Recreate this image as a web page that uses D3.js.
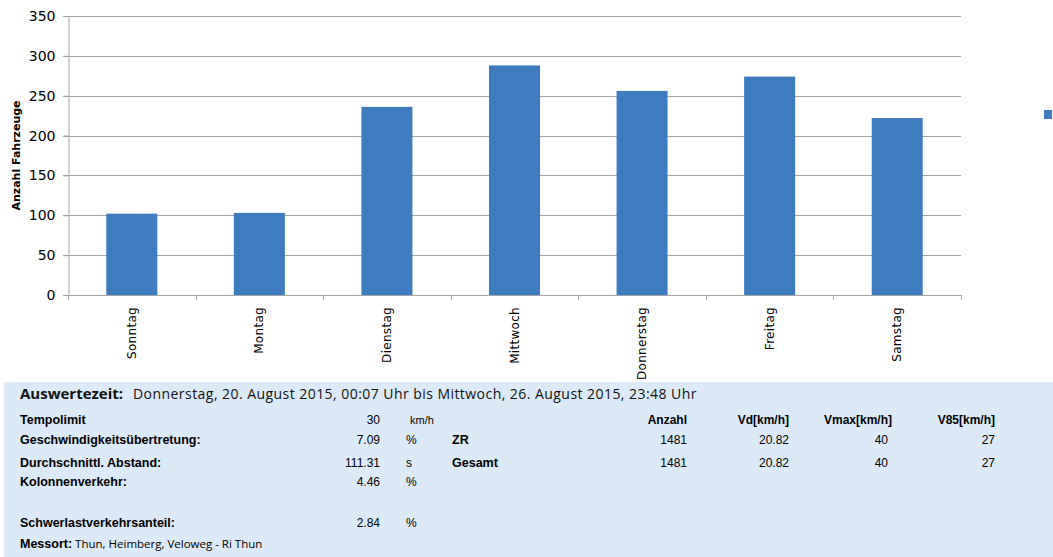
<!DOCTYPE html>
<html>
<head>
<meta charset="utf-8">
<script src="https://cdn.jsdelivr.net/npm/d3@7"></script>
<style>
  body { margin: 0; background: #fff; }
  svg { display: block; }
</style>
</head>
<body>
<svg id="chart" width="1053" height="557"></svg>
<script>
// Tage und Anzahl Fahrzeuge
var days = ["Sonntag", "Montag", "Dienstag", "Mittwoch", "Donnerstag", "Freitag", "Samstag"];
var counts = [102, 103, 236, 288, 256, 274, 222];
var yTicks = [0, 50, 100, 150, 200, 250, 300, 350];

// Tabelle unten
var statLabels = ["Tempolimit", "Geschwindigkeitsübertretung:", "Durchschnittl. Abstand:", "Kolonnenverkehr:", "", "Schwerlastverkehrsanteil:"];
var statValues = ["30", "7.09", "111.31", "4.46", "", "2.84"];
var statUnits = ["km/h", "%", "s", "%", "", "%"];
var groupNames = ["ZR", "Gesamt"];
var colHeads = ["Anzahl", "Vd[km/h]", "Vmax[km/h]", "V85[km/h]"];
var zrRow = ["1481", "20.82", "40", "27"];
var gesamtRow = ["1481", "20.82", "40", "27"];

var svg = d3.select("#chart");
var barColor = "#3f7cbf";
var gridColor = "#a6a6a6";

// plot area (don't use "top" as a global name)
var pL = 68, pR = 961, pT = 16, pB = 295;

var x = d3.scaleBand()
    .domain(days)
    .range([pL, pR])
    .paddingInner(0.6)
    .paddingOuter(0.3);

var y = d3.scaleLinear()
    .domain([0, 350])
    .range([pB, pT]);

// gridlines
svg.append("g")
    .selectAll("line")
    .data(yTicks)
    .enter().append("line")
    .attr("x1", pL - 5)
    .attr("x2", pR)
    .attr("y1", function (d) { return Math.round(y(d)) + 0.5; })
    .attr("y2", function (d) { return Math.round(y(d)) + 0.5; })
    .attr("stroke", gridColor)
    .attr("stroke-width", 1);

// bars
svg.append("g")
    .selectAll("rect")
    .data(counts)
    .enter().append("rect")
    .attr("x", function (d, i) { return x(days[i]); })
    .attr("y", function (d) { return y(d); })
    .attr("width", x.bandwidth())
    .attr("height", function (d) { return y(0) - y(d); })
    .attr("fill", barColor);

// y axis
var yAxis = svg.append("g")
    .attr("transform", "translate(" + (pL + 0.5) + ",0)")
    .call(d3.axisLeft(y).tickValues(yTicks).tickSize(5).tickPadding(8));
yAxis.select(".domain").attr("stroke", gridColor);
yAxis.selectAll(".tick line").attr("stroke", gridColor);
yAxis.selectAll("text")
    .attr("font-family", "DejaVu Sans, Verdana, sans-serif")
    .attr("font-size", 14)
    .attr("fill", "#000");

// x axis line and ticks between categories
var xb = svg.append("g");
xb.append("line")
    .attr("x1", pL).attr("x2", pR + 0.5)
    .attr("y1", pB + 0.5).attr("y2", pB + 0.5)
    .attr("stroke", gridColor);
xb.selectAll("line.tk")
    .data(d3.range(days.length + 1))
    .enter().append("line")
    .attr("class", "tk")
    .attr("x1", function (i) { return Math.round(pL + i * (pR - pL) / days.length) + 0.5; })
    .attr("x2", function (i) { return Math.round(pL + i * (pR - pL) / days.length) + 0.5; })
    .attr("y1", pB)
    .attr("y2", pB + 5)
    .attr("stroke", gridColor);

// x labels, rotated
xb.selectAll("text")
    .data(days)
    .enter().append("text")
    .attr("transform", function (d) {
        return "translate(" + (x(d) + x.bandwidth() / 2 + 4) + "," + (pB + 12) + ") rotate(-90)";
    })
    .attr("text-anchor", "end")
    .attr("font-family", "DejaVu Sans, Verdana, sans-serif")
    .attr("font-size", 12)
    .attr("letter-spacing", 0.3)
    .text(function (d) { return d; });

// y axis title
svg.append("text")
    .attr("transform", "translate(20," + ((pT + pB) / 2) + ") rotate(-90)")
    .attr("text-anchor", "middle")
    .attr("font-family", "DejaVu Sans, Verdana, sans-serif")
    .attr("font-weight", "bold")
    .attr("font-size", 11)
    .text("Anzahl Fahrzeuge");

// legend marker (no text)
svg.append("rect")
    .attr("x", 1044).attr("y", 110)
    .attr("width", 8).attr("height", 9)
    .attr("fill", barColor);

// info panel
svg.append("rect")
    .attr("x", 4).attr("y", 382)
    .attr("width", 1049).attr("height", 175)
    .attr("fill", "#dce9f6");

var info = svg.append("g");

info.append("text")
    .attr("x", 20).attr("y", 399)
    .attr("font-family", "Open Sans, sans-serif")
    .attr("font-weight", "bold")
    .attr("font-size", 15)
    .attr("fill", "#111")
    .text("Auswertezeit:");

info.append("text")
    .attr("x", 133).attr("y", 399)
    .attr("font-family", "Open Sans, sans-serif")
    .attr("font-size", 14)
    .attr("letter-spacing", 0.45)
    .attr("fill", "#111")
    .text("Donnerstag, 20. August 2015, 00:07 Uhr bis Mittwoch, 26. August 2015, 23:48 Uhr");

var rowY = [424, 444, 467, 486, 506, 527];
var sans = "Liberation Sans, Arial, sans-serif";

info.selectAll("text.lbl")
    .data(statLabels)
    .enter().append("text")
    .attr("class", "lbl")
    .attr("x", 20)
    .attr("y", function (d, i) { return rowY[i]; })
    .attr("font-family", sans)
    .attr("font-weight", "bold")
    .attr("font-size", 12.5)
    .text(function (d) { return d; });

info.selectAll("text.val")
    .data(statValues)
    .enter().append("text")
    .attr("class", "val")
    .attr("x", 380)
    .attr("y", function (d, i) { return rowY[i]; })
    .attr("text-anchor", "end")
    .attr("font-family", sans)
    .attr("font-size", 12)
    .text(function (d) { return d; });

info.selectAll("text.unit")
    .data(statUnits)
    .enter().append("text")
    .attr("class", "unit")
    .attr("x", function (d) { return d === "km/h" ? 410 : 406; })
    .attr("y", function (d, i) { return rowY[i]; })
    .attr("font-family", sans)
    .attr("font-size", function (d) { return d === "km/h" ? 11 : 12; })
    .text(function (d) { return d; });

info.selectAll("text.grp")
    .data(groupNames)
    .enter().append("text")
    .attr("class", "grp")
    .attr("x", 452)
    .attr("y", function (d, i) { return rowY[i + 1]; })
    .attr("font-family", sans)
    .attr("font-weight", "bold")
    .attr("font-size", 12.5)
    .text(function (d) { return d; });

var colRight = [687, 789, 892, 995];

info.selectAll("text.head")
    .data(colHeads)
    .enter().append("text")
    .attr("class", "head")
    .attr("x", function (d, i) { return colRight[i]; })
    .attr("y", rowY[0])
    .attr("text-anchor", "end")
    .attr("font-family", sans)
    .attr("font-weight", "bold")
    .attr("font-size", 12)
    .text(function (d) { return d; });

[zrRow, gesamtRow].forEach(function (row, r) {
    info.selectAll("text.r" + r)
        .data(row)
        .enter().append("text")
        .attr("class", "r" + r)
        .attr("x", function (d, i) { return colRight[i] - (i === 2 ? 4 : 0); })
        .attr("y", rowY[r + 1])
        .attr("text-anchor", "end")
        .attr("font-family", sans)
        .attr("font-size", 12)
        .text(function (d) { return d; });
});

var mess = info.append("text")
    .attr("x", 20).attr("y", 548)
    .attr("font-size", 12);
mess.append("tspan")
    .attr("font-family", sans)
    .attr("font-weight", "bold")
    .attr("font-size", 12.5)
    .text("Messort:");
mess.append("tspan")
    .attr("font-family", "Open Sans, sans-serif")
    .attr("font-size", 11.5)
    .attr("dx", 3)
    .text("Thun, Heimberg, Veloweg - Ri Thun");
</script>
</body>
</html>
